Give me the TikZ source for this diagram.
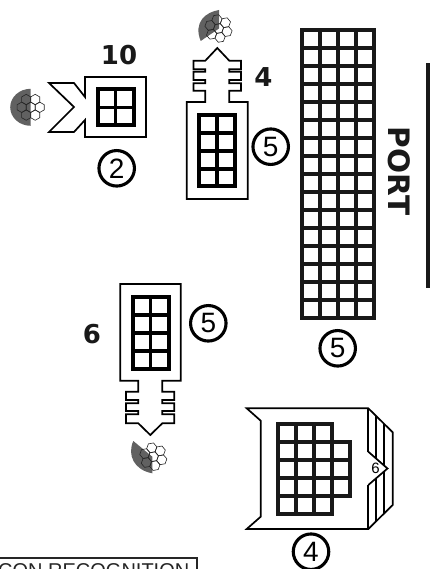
\documentclass[tikz,border=0pt]{standalone}
\usepackage{fontspec}
\newfontfamily\headf{DejaVu Sans}
\newfontfamily\plainf{Liberation Sans}
\newcommand\hexcluster[1]{%
  \foreach \a/\d in {0/0,0/9,60/9,120/9,180/9,240/9,300/9}{%
    \begin{scope}[shift={(\a:\d)}]
      \path[#1] (30:5.2)--(90:5.2)--(150:5.2)--(210:5.2)--(270:5.2)--(330:5.2)--cycle;
    \end{scope}}}
\tikzset{
  hull/.style={draw=black,line width=1.7pt,fill=white,line join=miter},
  hullline/.style={draw=black,line width=1.7pt},
  gridout/.style={draw=black,line width=4pt,line join=miter},
  gridin/.style={draw=black,line width=3.2pt},
  bigline/.style={draw=black!90,line width=3.7pt},
  sector/.style={fill=black!62,draw=none},
  hexfill/.style={fill=white,draw=none},
  hexline/.style={draw=black!85,line width=0.6pt},
  circled/.style={circle,draw=black,line width=3.1pt,minimum size=35.5pt,inner sep=0pt,font=\plainf\fontsize{28}{28}\selectfont},
  count/.style={font=\headf\bfseries\fontsize{26}{26}\selectfont,inner sep=0pt,text=black!90},
}
\begin{document}
\begin{tikzpicture}[x=1pt,y=-1pt]
\useasboundingbox (0,0) rectangle (431,569);
\fill[white] (0,0) rectangle (431,569);

% ship 10
\path[hull] (85,77) -- (146,77) -- (146,137) -- (85,137) -- (85,120) -- (74,132) -- (49,132) -- (74,107) -- (49,83) -- (74,83) -- (85,97) -- cycle;
\draw[gridin] (115.5,89.5) -- (115.5,125.5) (97.5,107.5) -- (133.5,107.5);
\draw[gridout] (97.5,89.5) rectangle (133.5,125.5);
\node[count,anchor=center] (n10) at (119,55) {10};
\node[circled] (c2) at (116.7,168.3) {2};
% left tug icon
\begin{scope}[shift={(30.7,107.3)}]
  \hexcluster{hexfill}
  \fill[sector] (0,-18.5) arc[start angle=270,end angle=90,x radius=20.5,y radius=18.5] -- cycle;
  \hexcluster{hexline}
\end{scope}

% ship 4
\path[hull] (186.7,102) -- (205.3,102) -- (205.3,90.7) -- (193.5,90.7) -- (193.5,83.3) -- (205.3,83.3) -- (205.3,80) -- (193.5,80) -- (193.5,71.7) -- (205.3,71.7) -- (205.3,69.3) -- (193.5,69.3) -- (193.5,60.7) -- (205.3,60.7) -- (217.3,48) -- (229.3,60.7) -- (241,60.7) -- (241,69.3) -- (229.3,69.3) -- (229.3,71.7) -- (241,71.7) -- (241,80) -- (229.3,80) -- (229.3,83.3) -- (241,83.3) -- (241,90.7) -- (229.3,90.7) -- (229.3,102) -- (247.7,102) -- (247.7,199) -- (186.7,199) -- cycle;
\draw[gridin] (217,115) -- (217,187) (199.3,133) -- (234.7,133) (199.3,151) -- (234.7,151) (199.3,169) -- (234.7,169);
\draw[gridout] (199.3,115) rectangle (234.7,186.5);
\node[count] (n4) at (263.5,77.5) {4};
\node[circled] (c5a) at (270.7,146.7) {5};
% top tug icon
\begin{scope}[shift={(218.5,28.5)},rotate=100]
  \hexcluster{hexfill}
\end{scope}
\fill[sector] (219,10) .. controls (206,12) and (193,22) .. (200.7,41) -- (219,28.5) -- cycle;
\begin{scope}[shift={(218.5,28.5)},rotate=100]
  \hexcluster{hexline}
\end{scope}

% big grid
\foreach \x in {320,338,356} {\draw[bigline] (\x,30) -- (\x,318);}
\foreach \y in {48,66,...,300} {\draw[bigline] (302,\y) -- (374,\y);}
\draw[bigline,line join=miter] (302,30) rectangle (374,318);
\node[circled] (c5b) at (337.7,348.3) {5};
\node[rotate=-90,inner sep=0pt,font=\headf\bfseries\fontsize{29.5}{29.5}\selectfont,text=black!90] (port) at (399.5,171) {PORT};
\coordinate (bartop) at (428,63.3);
\coordinate (barbot) at (428,288.3);
\draw[line width=4pt,black!90] (bartop) -- (barbot);

% ship 6
\path[hull] (120.3,284) -- (180.7,284) -- (180.7,380.7) -- (162.3,380.7) -- (162.3,391.7) -- (174.3,391.7) -- (174.3,400) -- (162.3,400) -- (162.3,403.3) -- (174.3,403.3) -- (174.3,411) -- (162.3,411) -- (162.3,414.3) -- (174.3,414.3) -- (174.3,423.3) -- (162.3,423.3) -- (150.3,435) -- (138.3,423.3) -- (126,423.3) -- (126,414.3) -- (138.3,414.3) -- (138.3,411) -- (126,411) -- (126,403.3) -- (138.3,403.3) -- (138.3,400) -- (126,400) -- (126,391.7) -- (138.3,391.7) -- (138.3,380.7) -- (120.3,380.7) -- cycle;
\draw[gridin] (150.7,297) -- (150.7,369) (132.7,315) -- (168.7,315) (132.7,333) -- (168.7,333) (132.7,351) -- (168.7,351);
\draw[gridout] (132.7,297) rectangle (168.7,368.7);
\node[count] (n6) at (92,334.5) {6};
\node[circled] (c5c) at (208.3,323.3) {5};
% bottom tug icon
\begin{scope}[shift={(153.3,456.7)},rotate=100]
  \hexcluster{hexfill}
\end{scope}
\fill[sector] (133.3,441) .. controls (127,455) and (134,470) .. (152.3,473.3) -- (152.3,456.7) -- cycle;
\begin{scope}[shift={(153.3,456.7)},rotate=100]
  \hexcluster{hexline}
\end{scope}

% ship at bottom right
\path[hull] (246.7,408.3) -- (368.3,408.3) -- (392.7,432.3) -- (392.7,505) -- (368.3,529) -- (246.7,529) -- (260.7,516.7) -- (260.7,420.7) -- cycle;
\draw[hullline] (368.3,408.3) -- (368.3,451.7) (368.3,485) -- (368.3,529);
\draw[hullline] (375.7,416) -- (375.7,458.2) (375.7,478.8) -- (375.7,521.5);
\draw[hullline] (384,424) -- (384,465.4) (384,471.6) -- (384,513.5);
\path[hullline,fill=white] (368.3,451.7) -- (387.5,468.5) -- (368.3,485);
\node[inner sep=0pt,font=\plainf\fontsize{15}{15}\selectfont] (n6b) at (375.5,468.5) {6};
\foreach \x in {296,314} {\draw[bigline] (\x,424) -- (\x,514);}
\draw[bigline] (332,442) -- (332,496);
\foreach \y in {460,478} {\draw[bigline] (278,\y) -- (350,\y);}
\draw[bigline] (278,442) -- (332,442) (278,496) -- (332,496);
\draw[bigline,line join=miter] (278,424) -- (332,424) -- (332,442) -- (350,442) -- (350,496) -- (332,496) -- (332,514) -- (278,514) -- cycle;
\node[circled] (c4) at (311,551.7) {4};

% caption clipped by the page
\begin{scope}
  \clip (0,0) rectangle (431,569);
  \draw[line width=1.3pt,black!85] (-3,558) -- (197,558) -- (197,575);
  \node[anchor=base west,inner sep=0pt,text=black!85,font=\plainf\fontsize{20}{20}\selectfont] (cap) at (-2,577) {CON RECOGNITION};
\end{scope}
\end{tikzpicture}
\end{document}
